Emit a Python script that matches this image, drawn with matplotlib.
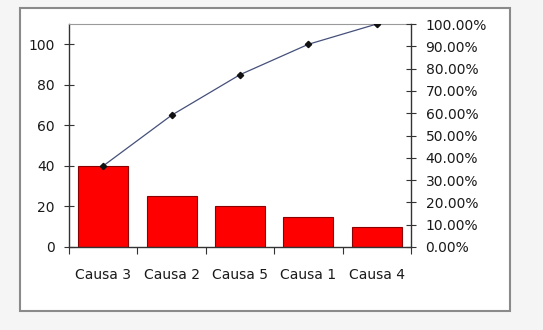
import numpy as np
import matplotlib
matplotlib.use("Agg")
import matplotlib.pyplot as plt
from matplotlib.patches import Rectangle
from matplotlib.ticker import FuncFormatter

# Pareto data
causes = ["Causa 3", "Causa 2", "Causa 5", "Causa 1", "Causa 4"]
counts = [40, 25, 20, 15, 10]

cum_share = np.cumsum(counts) / np.sum(counts)
x = np.arange(len(causes))

plt.rcParams['font.family'] = ['DejaVu Sans']
txt_color = '#1a1a1a'
axis_color = '#333333'

fig = plt.figure(figsize=(5.43, 3.30), dpi=100)
fig.patch.set_facecolor('#f5f5f5')

# white chart area with grey frame (behind the axes)
fig.patches.append(Rectangle((20 / 543, 1 - 311 / 330), 490 / 543, 303 / 330,
                             transform=fig.transFigure, facecolor='white',
                             edgecolor='#8a8a8a', linewidth=1.5, zorder=-1))

ax = fig.add_axes([69 / 543, 1 - 247 / 330, 342 / 543, 223 / 330])
ax.set_facecolor('white')
ax.bar(x, counts, width=0.73, color='#ff0000', edgecolor='#8b0000', linewidth=0.8, zorder=2)
ax.set_xlim(-0.5, len(causes) - 0.5)
ax.set_ylim(0, 110)
ax.set_yticks(range(0, 101, 20))

# category separators below axis, labels centred
ax.set_xticks(np.arange(-0.5, len(causes), 1.0))
ax.set_xticklabels([])
ax.set_xticks(x, minor=True)
ax.set_xticklabels(causes, minor=True)
ax.tick_params(axis='x', which='major', direction='out', length=5, color=axis_color)
ax.tick_params(axis='x', which='minor', length=0, pad=15, labelsize=10, labelcolor=txt_color)
ax.tick_params(axis='y', direction='inout', length=7, pad=7, labelsize=10,
               labelcolor=txt_color, color=axis_color)

for side in ['left', 'bottom']:
    ax.spines[side].set_color(axis_color)
    ax.spines[side].set_linewidth(1.0)
ax.spines['top'].set_color('#9a9a9a')
ax.spines['right'].set_visible(False)

# cumulative percentage on the right axis
ax2 = ax.twinx()
ax2.set_ylim(0, 1.0)
ax2.set_yticks(np.arange(0, 1.01, 0.1))
ax2.yaxis.set_major_formatter(FuncFormatter(lambda v, p: f"{v:.2%}"))
ax2.plot(x, cum_share, color='#45507a', linewidth=0.9, marker='D',
         markersize=3.2, markerfacecolor='#111111', markeredgecolor='#111111', zorder=3)
ax2.tick_params(axis='y', direction='inout', length=7, pad=7, labelsize=10,
                labelcolor=txt_color, color=axis_color)
ax2.spines['right'].set_color(axis_color)
ax2.spines['right'].set_linewidth(1.0)
for side in ['left', 'top', 'bottom']:
    ax2.spines[side].set_visible(False)

fig.savefig("out.png", dpi=100, facecolor=fig.get_facecolor())
